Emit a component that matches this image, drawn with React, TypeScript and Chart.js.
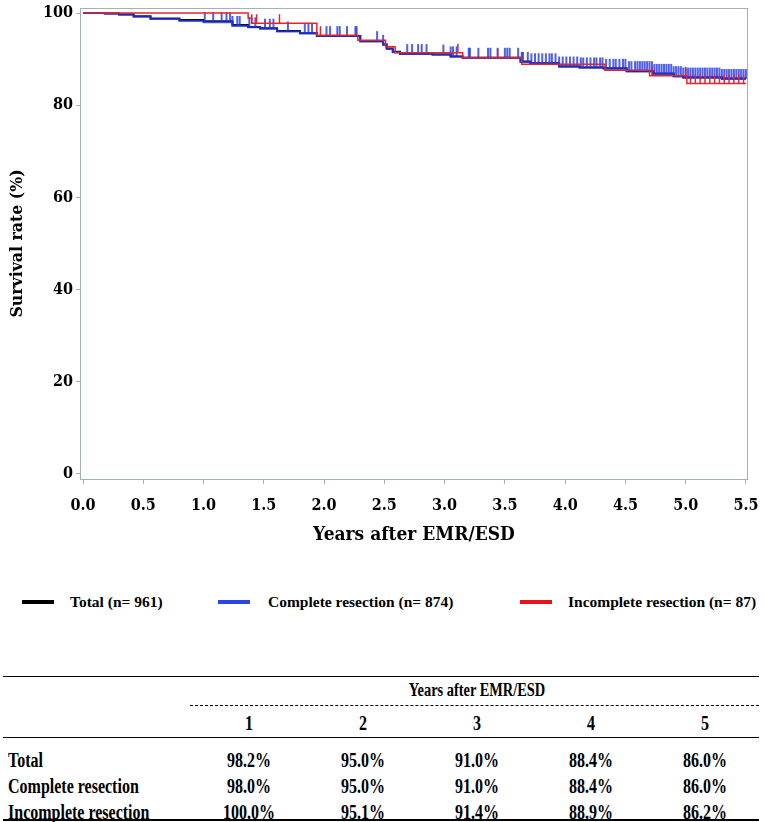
import React, { useEffect, useRef } from "react";
import { Chart, registerables } from "chart.js";

Chart.register(...registerables);

// ---- Kaplan–Meier step data (time in years, survival %) ----
const TOTAL_TIMES = [0, 0.18, 0.3, 0.42, 0.56, 0.8, 1.0, 1.24, 1.37, 1.47, 1.61, 1.8, 1.94, 2.3, 2.49, 2.52, 2.57, 2.63, 2.9, 3.05, 3.15, 3.63, 3.71, 3.95, 4.12, 4.32, 4.51, 4.73, 4.9, 4.98, 5.3, 5.5];
const TOTAL_SURV = [100, 99.9, 99.7, 99.3, 98.8, 98.5, 98.2, 97.4, 97.0, 96.7, 96.1, 95.6, 95.0, 93.9, 93.2, 92.3, 91.6, 91.2, 91.0, 90.6, 90.3, 89.5, 89.1, 88.4, 88.2, 88.0, 87.4, 86.9, 86.3, 86.0, 85.8, 85.8];

const COMPLETE_TIMES = [0, 0.18, 0.3, 0.42, 0.56, 0.8, 1.0, 1.24, 1.37, 1.47, 1.61, 1.8, 1.94, 2.3, 2.49, 2.52, 2.57, 2.63, 2.9, 3.05, 3.15, 3.63, 3.71, 3.95, 4.12, 4.32, 4.51, 4.73, 4.9, 4.98, 5.3, 5.5];
const COMPLETE_SURV = [100, 99.9, 99.7, 99.2, 98.7, 98.3, 98.0, 97.2, 96.9, 96.6, 96.0, 95.6, 95.0, 93.9, 93.1, 92.2, 91.5, 91.1, 91.0, 90.6, 90.3, 89.4, 89.1, 88.4, 88.2, 87.9, 87.4, 86.8, 86.3, 86.0, 85.7, 85.7];

const INCOMPLETE_TIMES = [0, 1.37, 1.4, 1.94, 2.28, 2.51, 2.59, 3.15, 3.64, 4.33, 4.7, 5.01, 5.5];
const INCOMPLETE_SURV = [100, 98.9, 97.8, 95.2, 94.1, 92.7, 91.4, 90.3, 88.9, 87.6, 86.4, 84.7, 84.7];

// censoring times (tick marks)
const COMPLETE_CENSOR = [1.01, 1.08, 1.15, 1.19, 1.22, 1.24, 1.28, 1.3, 1.38, 1.43, 1.51, 1.55, 1.58, 1.7, 1.84, 1.87, 1.9, 2.02, 2.05, 2.11, 2.13, 2.19, 2.26, 2.27, 2.44, 2.49, 2.69, 2.73, 2.78, 2.81, 2.85, 2.99, 3.05, 3.07, 3.1, 3.2, 3.21, 3.28, 3.36, 3.38, 3.44, 3.5, 3.52, 3.54, 3.61, 3.64, 3.65, 3.69, 3.72, 3.75, 3.78, 3.81, 3.84, 3.87, 3.89, 3.92, 3.95, 3.98, 4.01, 4.04, 4.07, 4.1, 4.13, 4.15, 4.18, 4.21, 4.24, 4.26, 4.29, 4.31, 4.34, 4.37, 4.4, 4.42, 4.45, 4.48, 4.5, 4.53, 4.55, 4.58, 4.6, 4.62, 4.64, 4.66, 4.68, 4.7, 4.72, 4.74, 4.76, 4.78, 4.8, 4.82, 4.84, 4.86, 4.88, 4.9, 4.92, 4.94, 4.96, 4.98, 5.0, 5.02, 5.04, 5.06, 5.08, 5.1, 5.12, 5.14, 5.16, 5.18, 5.2, 5.22, 5.24, 5.26, 5.28, 5.3, 5.32, 5.34, 5.36, 5.38, 5.4, 5.42, 5.44, 5.46, 5.48, 5.5];
const INCOMPLETE_CENSOR = [1.4, 1.44, 1.63, 1.97, 3.11, 3.44, 4.72, 5.0, 5.04, 5.08, 5.12, 5.16, 5.2, 5.24, 5.28, 5.32, 5.36, 5.4, 5.44, 5.48];

const X_TICKS = [0, 0.5, 1, 1.5, 2, 2.5, 3, 3.5, 4, 4.5, 5, 5.5];
const Y_TICKS = [0, 20, 40, 60, 80, 100];

const X_TITLE = "Years after EMR/ESD";
const Y_TITLE = "Survival rate (%)";

const LEGEND_LABELS = ["Total (n= 961)", "Complete resection (n= 874)", "Incomplete resection (n= 87)"];

const TABLE_HEADER = "Years after EMR/ESD";
const TABLE_YEARS = ["1", "2", "3", "4", "5"];
const TABLE_ROW_LABELS = ["Total", "Complete resection", "Incomplete resection"];
const TABLE_TOTAL = ["98.2%", "95.0%", "91.0%", "88.4%", "86.0%"];
const TABLE_COMPLETE = ["98.0%", "95.0%", "91.0%", "88.4%", "86.0%"];
const TABLE_INCOMPLETE = ["100.0%", "95.1%", "91.4%", "88.9%", "86.2%"];

// ---- styling ----
const C_TOTAL = "#111111";
const C_COMPLETE = "rgba(30,50,235,0.78)";
const C_INCOMPLETE = "#e3242b";
const LEGEND_COLORS = ["#000000", "#2b45e8", "#e8131b"];
const AXIS_GREY = "#a3b3b3";
const TICK_FONT = "'DejaVu Serif Condensed', 'DejaVu Serif', serif";
const TABLE_FONT = "'Liberation Serif', 'Times New Roman', serif";

function survAt(times: number[], surv: number[], t: number): number {
  let v = surv[0];
  for (let i = 0; i < times.length; i++) {
    if (times[i] <= t) v = surv[i];
    else break;
  }
  return v;
}

function toPoints(times: number[], surv: number[]) {
  return times.map((x, i) => ({ x, y: surv[i] }));
}

const framePlugin = {
  id: "frame",
  beforeDatasetsDraw(chart: any) {
    const { ctx, chartArea } = chart;
    ctx.save();
    ctx.strokeStyle = AXIS_GREY;
    ctx.lineWidth = 1;
    ctx.strokeRect(chartArea.left + 0.5, chartArea.top + 0.5, chartArea.right - chartArea.left - 1, chartArea.bottom - chartArea.top);
    ctx.restore();
  },
};

function KMChart() {
  const ref = useRef<HTMLCanvasElement | null>(null);
  useEffect(() => {
    if (!ref.current) return;
    const chart = new Chart(ref.current, {
      type: "line",
      data: {
        datasets: [
          {
            label: "Incomplete censor",
            type: "scatter",
            data: INCOMPLETE_CENSOR.map((t) => ({ x: t, y: survAt(INCOMPLETE_TIMES, INCOMPLETE_SURV, t) })),
            showLine: false,
            pointStyle: "dash",
            rotation: -90,
            pointRadius: 9,
            pointBorderWidth: 1.5,
            pointBorderColor: C_INCOMPLETE,
            borderColor: C_INCOMPLETE,
            order: 0,
          } as any,
          {
            label: LEGEND_LABELS[2],
            data: toPoints(INCOMPLETE_TIMES, INCOMPLETE_SURV),
            stepped: "before",
            borderColor: C_INCOMPLETE,
            borderWidth: 1.5,
            pointRadius: 0,
            fill: false,
            order: 1,
          } as any,
          {
            label: "Complete censor",
            type: "scatter",
            data: COMPLETE_CENSOR.map((t) => ({ x: t, y: survAt(COMPLETE_TIMES, COMPLETE_SURV, t) })),
            showLine: false,
            pointStyle: "dash",
            rotation: -90,
            pointRadius: 10,
            pointBorderWidth: 2,
            pointBorderColor: C_COMPLETE,
            borderColor: C_COMPLETE,
            order: 2,
          } as any,
          {
            label: LEGEND_LABELS[1],
            data: toPoints(COMPLETE_TIMES, COMPLETE_SURV),
            stepped: "before",
            borderColor: C_COMPLETE,
            borderWidth: 2,
            pointRadius: 0,
            fill: false,
            order: 3,
          } as any,
          {
            label: LEGEND_LABELS[0],
            data: toPoints(TOTAL_TIMES, TOTAL_SURV),
            stepped: "before",
            borderColor: C_TOTAL,
            borderWidth: 2,
            pointRadius: 0,
            fill: false,
            order: 4,
          } as any,
        ],
      },
      options: {
        animation: false,
        responsive: false,
        maintainAspectRatio: false,
        layout: { autoPadding: false, padding: { top: 8, right: 17, bottom: 0, left: 0 } },
        plugins: { legend: { display: false }, tooltip: { enabled: false } },
        scales: {
          x: {
            type: "linear",
            min: -0.025,
            max: 5.517,
            afterBuildTicks: (s: any) => {
              s.ticks = X_TICKS.map((v) => ({ value: v }));
            },
            afterFit: (s: any) => {
              s.height = 81;
              s.paddingLeft = 0;
              s.paddingRight = 0;
            },
            ticks: {
              callback: (v: any) => Number(v).toFixed(1),
              font: { family: TICK_FONT, size: 16, weight: "bold" },
              color: "#000",
              padding: 12,
              maxRotation: 0,
              autoSkip: false,
            },
            grid: { display: true, drawOnChartArea: false, drawTicks: true, tickLength: 5, color: AXIS_GREY },
            border: { display: false },
            title: {
              display: true,
              text: X_TITLE,
              font: { family: TICK_FONT, size: 19, weight: "bold" },
              color: "#000",
              padding: { top: 0, bottom: 14 },
            },
          },
          y: {
            type: "linear",
            min: -1.1,
            max: 101.1,
            afterBuildTicks: (s: any) => {
              s.ticks = Y_TICKS.map((v) => ({ value: v }));
            },
            afterFit: (s: any) => {
              s.width = 80;
              s.paddingTop = 0;
              s.paddingBottom = 0;
            },
            ticks: {
              callback: (v: any) => String(v),
              font: { family: TICK_FONT, size: 16, weight: "bold" },
              color: "#000",
              padding: 3,
              autoSkip: false,
            },
            grid: { display: true, drawOnChartArea: false, drawTicks: true, tickLength: 4, color: AXIS_GREY },
            border: { display: false },
            title: {
              display: true,
              text: Y_TITLE,
              font: { family: TICK_FONT, size: 17.5, weight: "bold" },
              color: "#000",
              padding: { top: 7, bottom: 0 },
            },
          },
        },
      } as any,
      plugins: [framePlugin],
    });
    return () => chart.destroy();
  }, []);
  return <canvas ref={ref} width={765} height={560} style={{ width: 765, height: 560, display: "block" }} />;
}

const LEGEND_LINE_X = [22, 218, 520];
const LEGEND_TEXT_X = [70, 268, 568];

const COL_CENTERS = [249, 363, 477, 591, 705];
const ROW_CENTERS = [760, 786, 812];

function Text({ x, y, children, align = "left", size = 16, squeeze = 1 }: any) {
  const style: React.CSSProperties = {
    position: "absolute",
    top: y - 12,
    height: 24,
    lineHeight: "24px",
    fontFamily: TABLE_FONT,
    fontWeight: "bold",
    fontSize: size,
    color: "#000",
    whiteSpace: "nowrap",
    transform: squeeze !== 1 ? `scaleX(${squeeze})` : undefined,
  };
  if (align === "center") {
    style.left = x - 150;
    style.width = 300;
    style.textAlign = "center";
    style.transformOrigin = "50% 50%";
  } else {
    style.left = x;
    style.transformOrigin = "0% 50%";
  }
  return <div style={style}>{children}</div>;
}

export default function App() {
  const rows = [TABLE_TOTAL, TABLE_COMPLETE, TABLE_INCOMPLETE];
  return (
    <div style={{ position: "absolute", left: 0, top: 0, width: 765, height: 822, background: "#fff", overflow: "hidden" }}>
      <div style={{ position: "absolute", left: 0, top: 0 }}>
        <KMChart />
      </div>
      {/* legend */}
      {LEGEND_LABELS.map((lab, i) => (
        <React.Fragment key={lab}>
          <div style={{ position: "absolute", left: LEGEND_LINE_X[i], top: 600, width: 32, height: 4, background: LEGEND_COLORS[i] }} />
          <Text x={LEGEND_TEXT_X[i]} y={602} size={15.5}>{lab}</Text>
        </React.Fragment>
      ))}
      {/* table */}
      <div style={{ position: "absolute", left: 3, top: 676, width: 756, height: 0, borderTop: "1.5px solid #000" }} />
      <Text x={477} y={690} align="center" size={18} squeeze={0.8}>{TABLE_HEADER}</Text>
      <div style={{ position: "absolute", left: 190, top: 705, width: 569, height: 0, borderTop: "1.5px dashed #000" }} />
      {TABLE_YEARS.map((y, i) => (
        <Text key={y} x={COL_CENTERS[i]} y={723} align="center" size={20} squeeze={0.8}>{y}</Text>
      ))}
      <div style={{ position: "absolute", left: 3, top: 737, width: 756, height: 0, borderTop: "1px solid #000" }} />
      {TABLE_ROW_LABELS.map((lab, r) => (
        <React.Fragment key={lab}>
          <Text x={8} y={ROW_CENTERS[r]} size={20} squeeze={0.8}>{lab}</Text>
          {rows[r].map((v, c) => (
            <Text key={c} x={COL_CENTERS[c]} y={ROW_CENTERS[r]} align="center" size={20} squeeze={0.8}>{v}</Text>
          ))}
        </React.Fragment>
      ))}
      <div style={{ position: "absolute", left: 3, top: 819, width: 756, height: 0, borderTop: "2.5px solid #000" }} />
    </div>
  );
}
